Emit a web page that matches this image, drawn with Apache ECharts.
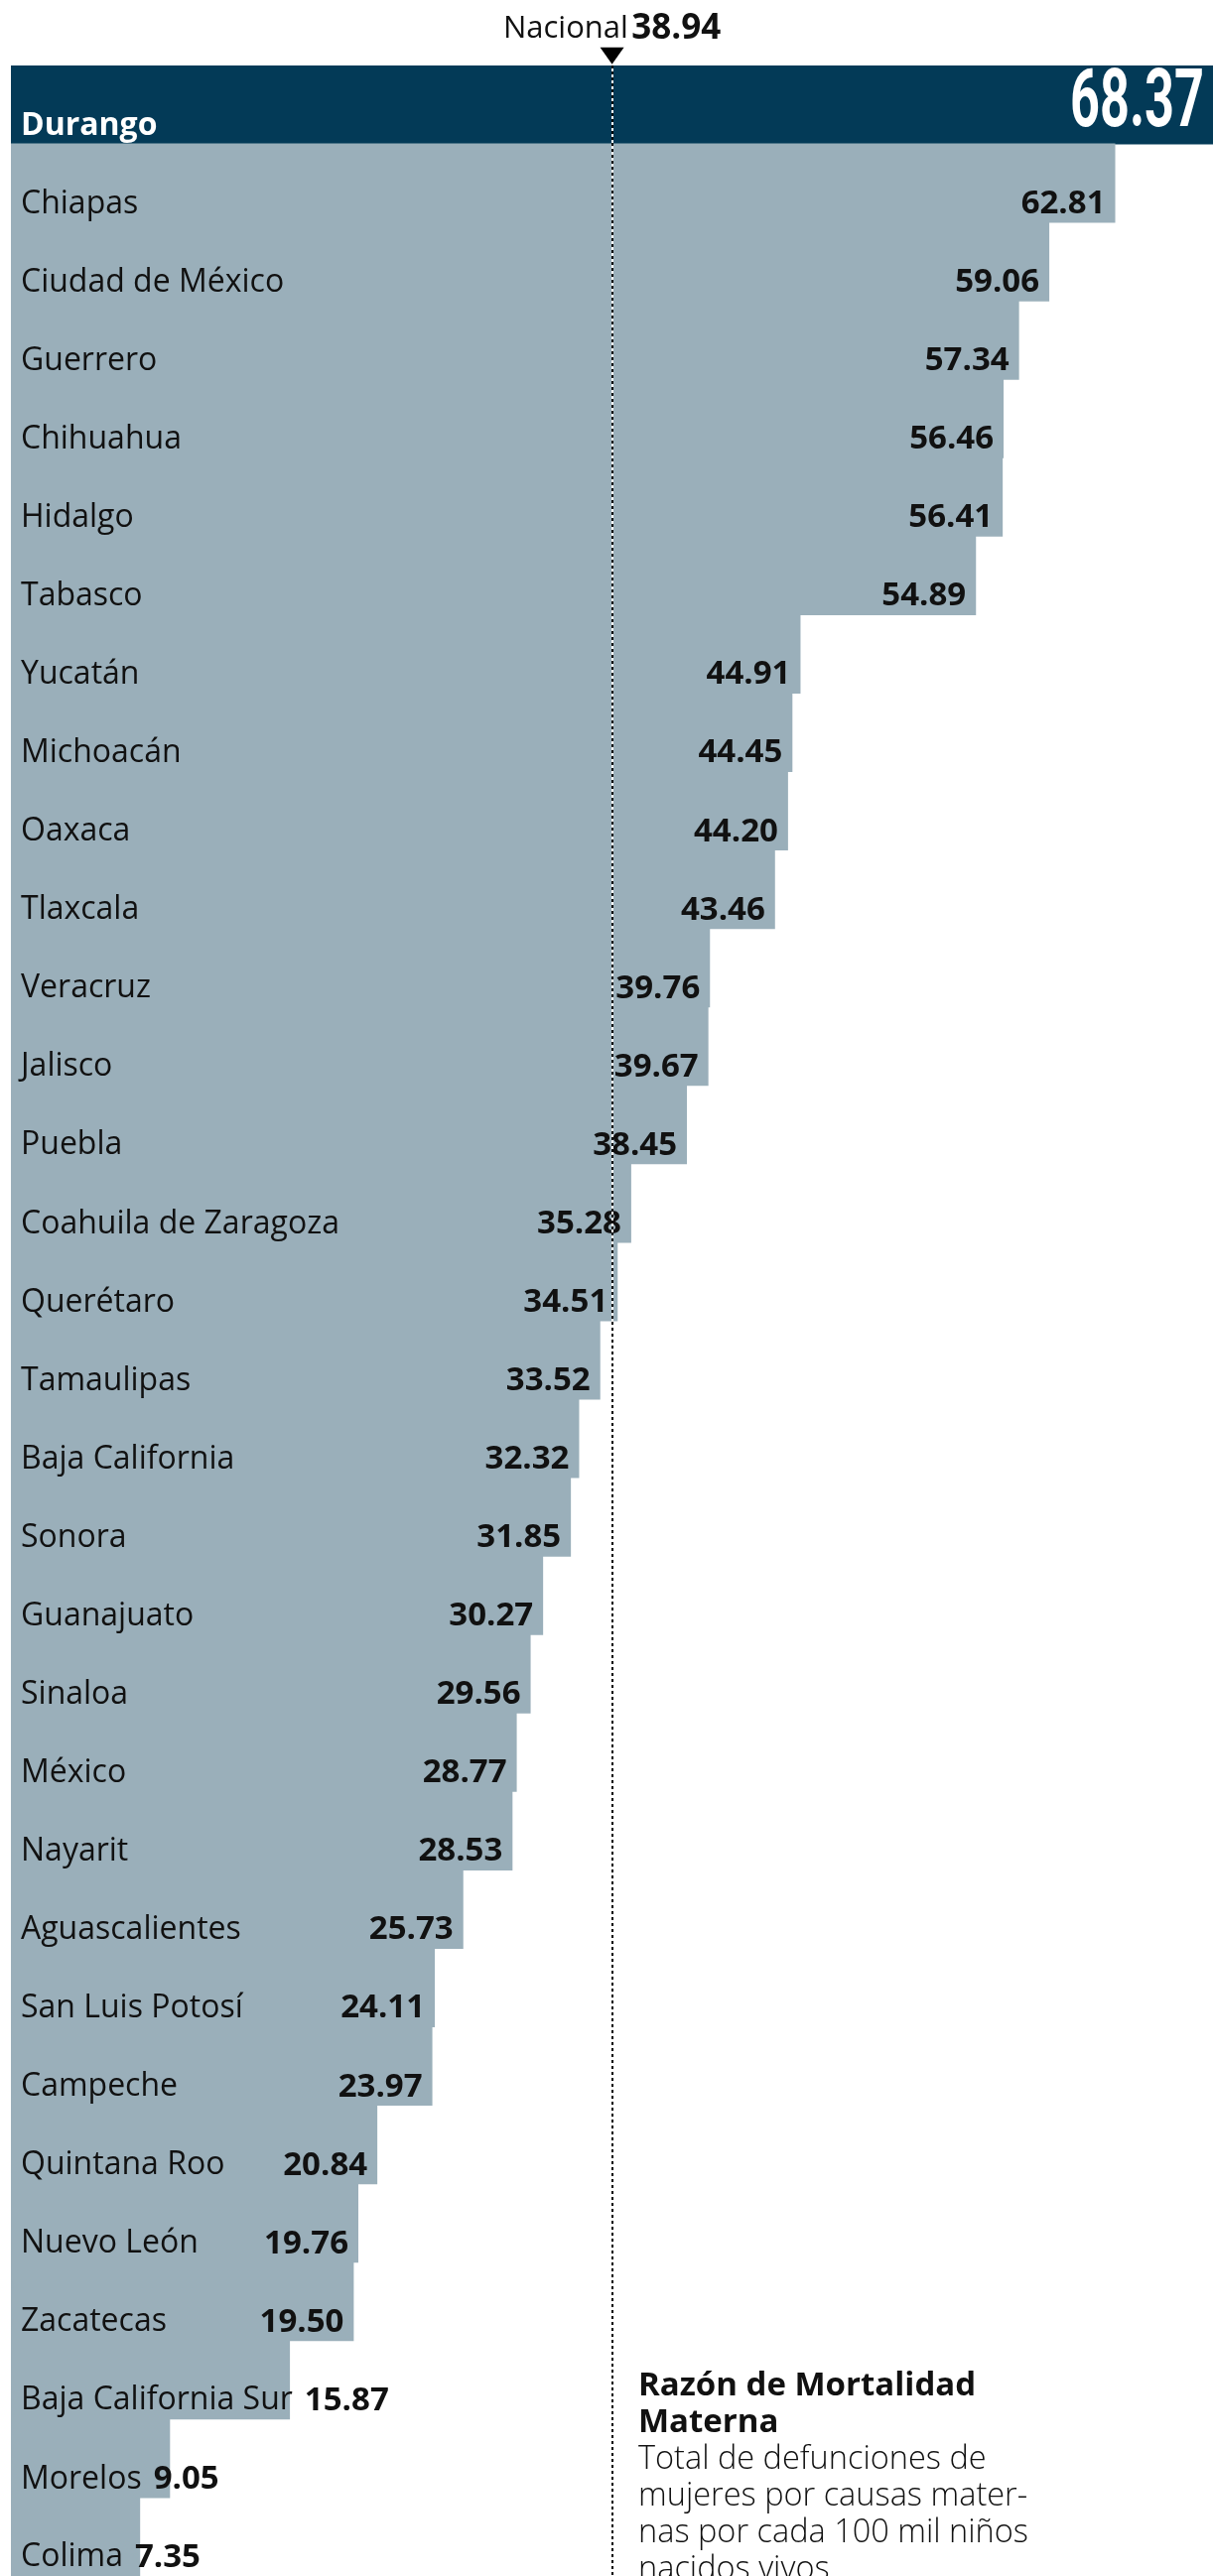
<!DOCTYPE html>
<html>
<head>
<meta charset="utf-8">
<script src="https://cdn.jsdelivr.net/npm/echarts@6/dist/echarts.min.js"></script>
<style>
html,body{margin:0;padding:0;background:#fff;}
#c{width:1222px;height:2596px;}
</style>
</head>
<body>
<div id="c"></div>
<script>
const categories = ['Durango','Chiapas','Ciudad de México','Guerrero','Chihuahua','Hidalgo','Tabasco','Yucatán','Michoacán','Oaxaca','Tlaxcala','Veracruz','Jalisco','Puebla','Coahuila de Zaragoza','Querétaro','Tamaulipas','Baja California','Sonora','Guanajuato','Sinaloa','México','Nayarit','Aguascalientes','San Luis Potosí','Campeche','Quintana Roo','Nuevo León','Zacatecas','Baja California Sur','Morelos','Colima'];
const values = [68.37,62.81,59.06,57.34,56.46,56.41,54.89,44.91,44.45,44.20,43.46,39.76,39.67,38.45,35.28,34.51,33.52,32.32,31.85,30.27,29.56,28.77,28.53,25.73,24.11,23.97,20.84,19.76,19.50,15.87,9.05,7.35];
const nationalValue = 38.94;          // value printed in the header
const nationalMarkerAt = 34.19;       // where the reference draws the marker line
const titleLines = ['Razón de Mortalidad','Materna'];
const noteLines = ['Total de defunciones de','mujeres por causas mater-','nas por cada 100 mil niños','nacidos vivos'];

const DARK = '#033a57', LIGHT = '#9aafba';
const NAME_FONT = '"Open Sans", "Noto Sans", sans-serif';
const NAME_SIZE = 32, VAL_SIZE = 33;
const PX_PER_UNIT = 17.79;
const LABEL_DY = 21;
const xMax = values[0];

// measure text to decide which value labels must follow the name
const ctx = document.createElement('canvas').getContext('2d');
function tw(txt, font){ ctx.font = font; return ctx.measureText(txt).width; }
const fmt = v => v.toFixed(2);
const inline = values.map((v,i) => {
  const need = 10 + tw(categories[i], NAME_SIZE + 'px ' + NAME_FONT) + 12 + tw(fmt(v), 'bold ' + VAL_SIZE + 'px ' + NAME_FONT) + 10;
  return v * PX_PER_UNIT < need;
});

const mainData = values.map((v,i) => {
  const d = {value: v, itemStyle: {color: i === 0 ? DARK : LIGHT}};
  if (i === 0) d.label = {show:false};
  return d;
});
const nameData = values.map(v => ({value: v}));

const chart = echarts.init(document.getElementById('c'), null, {renderer:'canvas'});
chart.setOption({
  animation: false,
  backgroundColor: '#fff',
  grid: {left: 11, top: 66, width: xMax * PX_PER_UNIT, height: 2533, containLabel: false},
  xAxis: {type:'value', min:0, max:xMax, show:false},
  yAxis: {type:'category', data: categories, inverse: true, show:false},
  series: [
    {
      type:'bar', data: mainData, barWidth: 80, barGap:'-100%', silent:true,
      label: {
        show:true, position:'insideRight', distance:10, offset:[0,LABEL_DY],
        fontFamily: NAME_FONT, fontWeight:'bold', fontSize: VAL_SIZE, color:'#111',
        formatter: p => inline[p.dataIndex] ? '' : fmt(p.value)
      }
    },
    {
      type:'bar', data: nameData, barWidth: 80, barGap:'-100%', silent:true,
      itemStyle: {color:'rgba(0,0,0,0)'},
      label: {
        show:true, position:'insideLeft', distance:10, offset:[0,LABEL_DY],
        formatter: p => {
          const i = p.dataIndex;
          if (i === 0) return '{d|' + categories[i] + '}';
          if (inline[i]) return '{n|' + categories[i] + '}{v|' + fmt(values[i]) + '}';
          return '{n|' + categories[i] + '}';
        },
        rich: {
          n: {fontFamily: NAME_FONT, fontSize: NAME_SIZE, color:'#111'},
          d: {fontFamily: NAME_FONT, fontSize: NAME_SIZE, fontWeight:'bold', color:'#fff'},
          v: {fontFamily: NAME_FONT, fontSize: VAL_SIZE, fontWeight:'bold', color:'#111', padding:[0,0,0,12]}
        }
      },
      markLine: {
        silent:true, symbol:'none', label:{show:false},
        data: [
          {xAxis: nationalMarkerAt, lineStyle:{color:'#fff', type:'solid', width:2}},
          {xAxis: nationalMarkerAt, lineStyle:{color:'#000', type:[3,3], width:2}}
        ]
      },
      markPoint: {
        silent:true,
        data: [{
          coord: [nationalMarkerAt, categories[0]],
          symbol:'triangle', symbolRotate:180, symbolSize:[24,17], symbolOffset:[0,-49.4],
          itemStyle:{color:'#000'},
          label: {
            show:true, position:'top', distance:1,
            formatter: '{a|Nacional} {b|' + fmt(nationalValue) + '}',
            rich: {
              a: {fontFamily: NAME_FONT, fontSize: 31, color:'#111'},
              b: {fontFamily: NAME_FONT, fontSize: 35, fontWeight:'bold', color:'#111'}
            }
          }
        }]
      }
    },
    {
      // condensed headline value for the leading state
      type:'custom', silent:true, z: 5,
      data: [[values[0], categories[0]]],
      encode: {x:0, y:1},
      renderItem: (params, api) => {
        const pt = api.coord([api.value(0), api.value(1)]);
        return {
          type:'text', x: pt[0] - 9, y: pt[1] + 1, scaleX: 0.645, scaleY: 1,
          style: {
            text: fmt(api.value(0)), fill:'#fff', align:'right', verticalAlign:'middle',
            font: 'bold 81px Roboto, "Open Sans", sans-serif'
          }
        };
      }
    }
  ],
  graphic: [{
    type:'text', left: 643, top: 2388, silent:true,
    style: {
      text: titleLines.map(t => '{t|' + t + '}').concat(noteLines.map(t => '{b|' + t + '}')).join('\n'),
      rich: {
        t: {fontFamily: NAME_FONT, fontSize: 33, fontWeight:'bold', fill:'#111', lineHeight: 37},
        b: {fontFamily: NAME_FONT, fontSize: 32.5, fontWeight: 300, fill:'#111', lineHeight: 37}
      }
    }
  }]
});
</script>
</body>
</html>
